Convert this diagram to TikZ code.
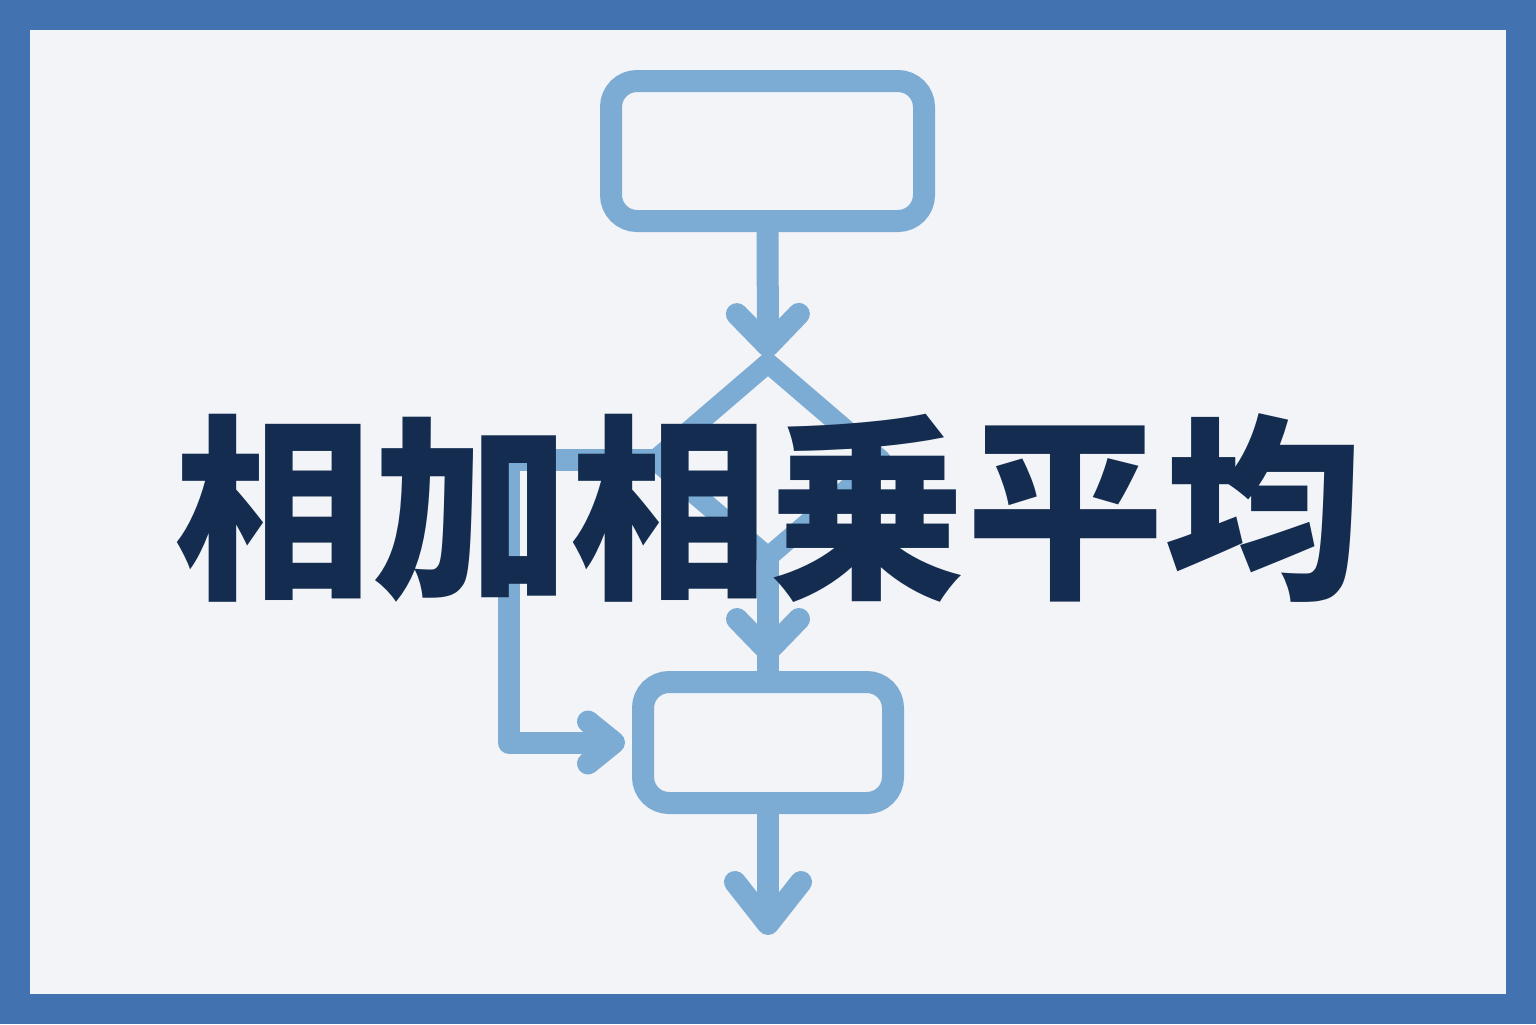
\documentclass[tikz,border=0pt]{standalone}
\usepackage{fontspec}
\newfontfamily\cjk{Noto Sans CJK JP}
\usetikzlibrary{shapes.geometric,arrows.meta,calc}
\definecolor{frameblue}{RGB}{66,115,176}
\definecolor{paper}{RGB}{242,244,248}
\definecolor{flowblue}{RGB}{124,172,211}
\definecolor{navy}{RGB}{19,44,79}
\tikzset{
  boxnode/.style={draw=flowblue,line width=11pt,rounded corners=13pt,inner sep=0pt,outer sep=0pt},
  decnode/.style={diamond,draw=flowblue,line width=10pt,line join=round,inner sep=0pt,outer sep=0pt},
  flowline/.style={draw=flowblue,line width=11pt,line cap=round,line join=round},
  tipA/.style={-{Straight Barb[length=16pt,width=31pt,line cap=round,line join=round]}},
  tipB/.style={-{Straight Barb[length=21pt,width=33pt,line cap=round,line join=round]}},
  tipC/.style={-{Straight Barb[length=13pt,width=21pt,line cap=round,line join=round]}},
  titletext/.style={text=navy,font=\cjk\bfseries\fontsize{99pt}{99pt}\selectfont,inner sep=0pt,anchor=base}
}
\begin{document}
\begin{tikzpicture}[x=0.5pt,y=-0.5pt]
\useasboundingbox (0,0) rectangle (1536,1024);
\fill[frameblue] (0,0) rectangle (1536,1024);
\fill[paper] (30,30) rectangle (1506,994);
% flowchart
\node[boxnode,minimum width=156.5pt,minimum height=70pt] (top) at (767.5,151) {};
\node[decnode,minimum width=113pt,minimum height=97pt] (dec) at (768,460) {};
\node[boxnode,minimum width=125pt,minimum height=60.5pt] (bot) at (768,742.5) {};
\coordinate (corner) at (509,460);
\coordinate (out) at (768,935);
\draw[flowline,tipA] (top.south) -- ($(dec.north)+(0,-6)$);
\draw[flowline] (dec.south) -- (bot.north);
\draw[flowline,tipA] (dec.south) -- ($(bot.north)+(0,-20)$);
\draw[flowline,tipC,shorten >=9pt] (dec.west) -- (corner) |- (bot.west);
\draw[flowline,tipB] (bot.south) -- (out);
% title
\node[titletext] (title) at (768,583) {相加相乗平均};
\end{tikzpicture}
\end{document}
